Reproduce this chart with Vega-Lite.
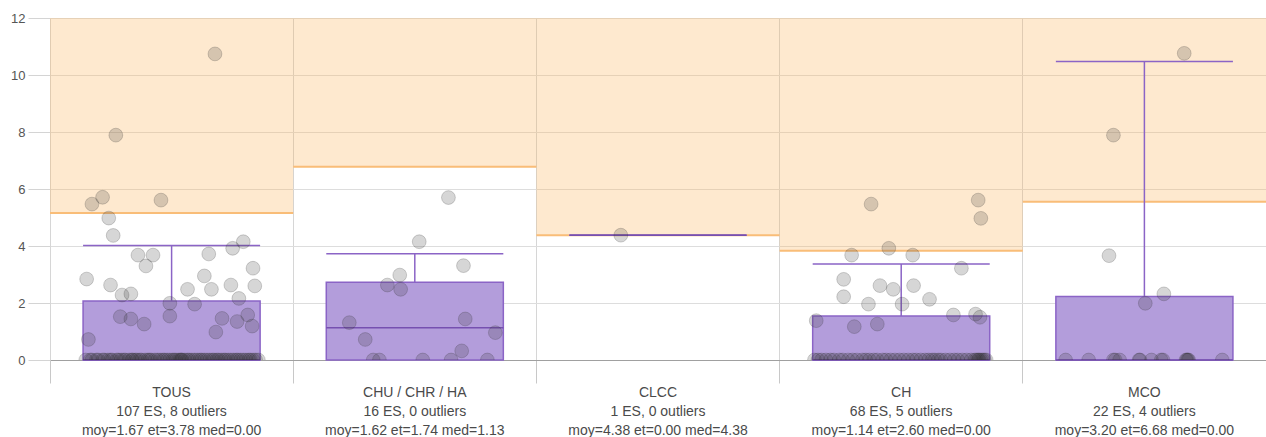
{
  "$schema": "https://vega.github.io/schema/vega-lite/v6.json",
  "width": 1216,
  "height": 342,
  "autosize": {"type": "none"},
  "padding": {"left": 50, "top": 18, "right": 0, "bottom": 77},
  "config": {
    "font": "Liberation Sans",
    "view": {"stroke": null},
    "axis": {"labelFont": "Liberation Sans"}
  },
  "resolve": {"scale": {"xOffset": "independent"}},
  "datasets": {
    "stats": [
      {"c": "TOUS", "label": "TOUS\n107 ES, 8 outliers\nmoy=1.67 et=3.78 med=0.00", "q1": 0, "q3": 2.07, "med": 0, "wtop": 4.02, "thr": 5.16, "top": 12},
      {"c": "CHU", "label": "CHU / CHR / HA\n16 ES, 0 outliers\nmoy=1.62 et=1.74 med=1.13", "q1": 0, "q3": 2.73, "med": 1.13, "wtop": 3.73, "thr": 6.78, "top": 12},
      {"c": "CLCC", "label": "CLCC\n1 ES, 0 outliers\nmoy=4.38 et=0.00 med=4.38", "q1": 4.38, "q3": 4.38, "med": 4.38, "wtop": 4.38, "thr": 4.38, "top": 12},
      {"c": "CH", "label": "CH\n68 ES, 5 outliers\nmoy=1.14 et=2.60 med=0.00", "q1": 0, "q3": 1.54, "med": 0, "wtop": 3.37, "thr": 3.83, "top": 12},
      {"c": "MCO", "label": "MCO\n22 ES, 4 outliers\nmoy=3.20 et=6.68 med=0.00", "q1": 0, "q3": 2.23, "med": 0, "wtop": 10.47, "thr": 5.55, "top": 12}
    ],
    "pts": [
      {"c":"TOUS","v":10.74,"j":0.49},{"c":"TOUS","v":7.89,"j":-0.63},{"c":"TOUS","v":5.47,"j":-0.9},{"c":"TOUS","v":5.71,"j":-0.78},
      {"c":"TOUS","v":5.61,"j":-0.12},{"c":"TOUS","v":4.98,"j":-0.71},{"c":"TOUS","v":4.37,"j":-0.66},{"c":"TOUS","v":3.68,"j":-0.38},
      {"c":"TOUS","v":3.68,"j":-0.21},{"c":"TOUS","v":3.3,"j":-0.29},{"c":"TOUS","v":2.84,"j":-0.96},{"c":"TOUS","v":2.63,"j":-0.69},
      {"c":"TOUS","v":2.28,"j":-0.56},{"c":"TOUS","v":2.32,"j":-0.46},{"c":"TOUS","v":1.52,"j":-0.58},{"c":"TOUS","v":1.44,"j":-0.46},
      {"c":"TOUS","v":1.26,"j":-0.31},{"c":"TOUS","v":0.72,"j":-0.94},{"c":"TOUS","v":1.99,"j":-0.02},{"c":"TOUS","v":1.54,"j":-0.02},
      {"c":"TOUS","v":2.48,"j":0.18},{"c":"TOUS","v":1.96,"j":0.26},{"c":"TOUS","v":2.95,"j":0.37},{"c":"TOUS","v":2.48,"j":0.45},
      {"c":"TOUS","v":3.72,"j":0.42},{"c":"TOUS","v":3.92,"j":0.69},{"c":"TOUS","v":4.15,"j":0.81},{"c":"TOUS","v":3.22,"j":0.92},
      {"c":"TOUS","v":2.6,"j":0.94},{"c":"TOUS","v":2.63,"j":0.67},{"c":"TOUS","v":2.16,"j":0.76},{"c":"TOUS","v":1.46,"j":0.57},
      {"c":"TOUS","v":1.35,"j":0.74},{"c":"TOUS","v":1.58,"j":0.86},{"c":"TOUS","v":1.19,"j":0.91},{"c":"TOUS","v":0.98,"j":0.5},
      {"c":"TOUS","v":0,"j":-0.97},{"c":"TOUS","v":0,"j":-0.92},{"c":"TOUS","v":0,"j":-0.9},{"c":"TOUS","v":0,"j":-0.85},
      {"c":"TOUS","v":0,"j":-0.83},{"c":"TOUS","v":0,"j":-0.78},{"c":"TOUS","v":0,"j":-0.76},{"c":"TOUS","v":0,"j":-0.72},
      {"c":"TOUS","v":0,"j":-0.69},{"c":"TOUS","v":0,"j":-0.67},{"c":"TOUS","v":0,"j":-0.62},{"c":"TOUS","v":0,"j":-0.6},
      {"c":"TOUS","v":0,"j":-0.57},{"c":"TOUS","v":0,"j":-0.54},{"c":"TOUS","v":0,"j":-0.52},{"c":"TOUS","v":0,"j":-0.48},
      {"c":"TOUS","v":0,"j":-0.45},{"c":"TOUS","v":0,"j":-0.44},{"c":"TOUS","v":0,"j":-0.39},{"c":"TOUS","v":0,"j":-0.36},
      {"c":"TOUS","v":0,"j":-0.34},{"c":"TOUS","v":0,"j":-0.3},{"c":"TOUS","v":0,"j":-0.27},{"c":"TOUS","v":0,"j":-0.25},
      {"c":"TOUS","v":0,"j":-0.23},{"c":"TOUS","v":0,"j":-0.19},{"c":"TOUS","v":0,"j":-0.16},{"c":"TOUS","v":0,"j":-0.13},
      {"c":"TOUS","v":0,"j":-0.1},{"c":"TOUS","v":0,"j":-0.08},{"c":"TOUS","v":0,"j":-0.05},{"c":"TOUS","v":0,"j":-0.02},
      {"c":"TOUS","v":0,"j":0.01},{"c":"TOUS","v":0,"j":0.03},{"c":"TOUS","v":0,"j":0.05},{"c":"TOUS","v":0,"j":0.08},
      {"c":"TOUS","v":0,"j":0.1},{"c":"TOUS","v":0,"j":0.12},{"c":"TOUS","v":0,"j":0.15},{"c":"TOUS","v":0,"j":0.18},
      {"c":"TOUS","v":0,"j":0.2},{"c":"TOUS","v":0,"j":0.23},{"c":"TOUS","v":0,"j":0.26},{"c":"TOUS","v":0,"j":0.29},
      {"c":"TOUS","v":0,"j":0.32},{"c":"TOUS","v":0,"j":0.34},{"c":"TOUS","v":0,"j":0.37},{"c":"TOUS","v":0,"j":0.4},
      {"c":"TOUS","v":0,"j":0.43},{"c":"TOUS","v":0,"j":0.46},{"c":"TOUS","v":0,"j":0.48},{"c":"TOUS","v":0,"j":0.51},
      {"c":"TOUS","v":0,"j":0.53},{"c":"TOUS","v":0,"j":0.56},{"c":"TOUS","v":0,"j":0.59},{"c":"TOUS","v":0,"j":0.61},
      {"c":"TOUS","v":0,"j":0.64},{"c":"TOUS","v":0,"j":0.67},{"c":"TOUS","v":0,"j":0.7},{"c":"TOUS","v":0,"j":0.73},
      {"c":"TOUS","v":0,"j":0.75},{"c":"TOUS","v":0,"j":0.78},{"c":"TOUS","v":0,"j":0.81},{"c":"TOUS","v":0,"j":0.84},
      {"c":"TOUS","v":0,"j":0.87},{"c":"TOUS","v":0,"j":0.89},{"c":"TOUS","v":0,"j":0.92},{"c":"TOUS","v":0,"j":0.95},
      {"c":"TOUS","v":0,"j":0.98},{"c":"TOUS","v":0,"j":-0.41},{"c":"TOUS","v":0,"j":0.11},
      {"c":"CHU","v":5.7,"j":0.38},{"c":"CHU","v":4.15,"j":0.05},{"c":"CHU","v":3.31,"j":0.55},{"c":"CHU","v":2.98,"j":-0.17},
      {"c":"CHU","v":2.63,"j":-0.31},{"c":"CHU","v":2.48,"j":-0.16},{"c":"CHU","v":1.31,"j":-0.74},{"c":"CHU","v":0.72,"j":-0.56},
      {"c":"CHU","v":1.44,"j":0.57},{"c":"CHU","v":0.96,"j":0.91},{"c":"CHU","v":0.32,"j":0.53},
      {"c":"CHU","v":0,"j":-0.47},{"c":"CHU","v":0,"j":-0.4},{"c":"CHU","v":0,"j":0.09},{"c":"CHU","v":0,"j":0.41},{"c":"CHU","v":0,"j":0.82},
      {"c":"CLCC","v":4.38,"j":-0.42},
      {"c":"CH","v":5.47,"j":-0.34},{"c":"CH","v":5.61,"j":0.87},{"c":"CH","v":4.97,"j":0.9},{"c":"CH","v":3.68,"j":-0.56},
      {"c":"CH","v":3.92,"j":-0.14},{"c":"CH","v":3.68,"j":0.13},{"c":"CH","v":3.22,"j":0.68},{"c":"CH","v":2.83,"j":-0.65},
      {"c":"CH","v":2.22,"j":-0.65},{"c":"CH","v":2.61,"j":-0.24},{"c":"CH","v":2.48,"j":-0.09},{"c":"CH","v":2.61,"j":0.14},
      {"c":"CH","v":1.96,"j":-0.37},{"c":"CH","v":1.96,"j":0.01},{"c":"CH","v":2.13,"j":0.32},{"c":"CH","v":1.38,"j":-0.96},
      {"c":"CH","v":1.17,"j":-0.53},{"c":"CH","v":1.26,"j":-0.27},{"c":"CH","v":1.58,"j":0.59},{"c":"CH","v":1.5,"j":0.89},
      {"c":"CH","v":1.61,"j":0.84},
      {"c":"CH","v":0,"j":-0.98},{"c":"CH","v":0,"j":-0.94},{"c":"CH","v":0,"j":-0.9},{"c":"CH","v":0,"j":-0.85},
      {"c":"CH","v":0,"j":-0.8},{"c":"CH","v":0,"j":-0.76},{"c":"CH","v":0,"j":-0.7},{"c":"CH","v":0,"j":-0.66},
      {"c":"CH","v":0,"j":-0.6},{"c":"CH","v":0,"j":-0.55},{"c":"CH","v":0,"j":-0.5},{"c":"CH","v":0,"j":-0.44},
      {"c":"CH","v":0,"j":-0.4},{"c":"CH","v":0,"j":-0.36},{"c":"CH","v":0,"j":-0.31},{"c":"CH","v":0,"j":-0.27},
      {"c":"CH","v":0,"j":-0.21},{"c":"CH","v":0,"j":-0.12},{"c":"CH","v":0,"j":-0.07},{"c":"CH","v":0,"j":-0.02},
      {"c":"CH","v":0,"j":0.03},{"c":"CH","v":0,"j":0.08},{"c":"CH","v":0,"j":0.13},{"c":"CH","v":0,"j":0.17},
      {"c":"CH","v":0,"j":0.22},{"c":"CH","v":0,"j":0.27},{"c":"CH","v":0,"j":0.31},{"c":"CH","v":0,"j":0.35},
      {"c":"CH","v":0,"j":0.38},{"c":"CH","v":0,"j":0.42},{"c":"CH","v":0,"j":0.45},{"c":"CH","v":0,"j":0.5},
      {"c":"CH","v":0,"j":0.55},{"c":"CH","v":0,"j":0.6},{"c":"CH","v":0,"j":0.64},{"c":"CH","v":0,"j":0.69},
      {"c":"CH","v":0,"j":0.74},{"c":"CH","v":0,"j":0.79},{"c":"CH","v":0,"j":0.83},{"c":"CH","v":0,"j":0.85},
      {"c":"CH","v":0,"j":0.87},{"c":"CH","v":0,"j":0.88},{"c":"CH","v":0,"j":0.9},{"c":"CH","v":0,"j":0.92},
      {"c":"CH","v":0,"j":0.94},{"c":"CH","v":0,"j":0.96},{"c":"CH","v":0,"j":-0.17},
      {"c":"MCO","v":10.76,"j":0.45},{"c":"MCO","v":7.89,"j":-0.35},{"c":"MCO","v":3.66,"j":-0.4},{"c":"MCO","v":2.32,"j":0.22},
      {"c":"MCO","v":1.99,"j":0.01},
      {"c":"MCO","v":0,"j":-0.89},{"c":"MCO","v":0,"j":-0.63},{"c":"MCO","v":0,"j":-0.35},{"c":"MCO","v":0,"j":-0.28},
      {"c":"MCO","v":0,"j":-0.06},{"c":"MCO","v":0,"j":0.08},{"c":"MCO","v":0,"j":0.19},{"c":"MCO","v":0,"j":0.47},
      {"c":"MCO","v":0,"j":0.49},{"c":"MCO","v":0,"j":0.88},{"c":"MCO","v":0,"j":0.48},{"c":"MCO","v":0,"j":-0.33},
      {"c":"MCO","v":0,"j":0.5},{"c":"MCO","v":0,"j":0.21},{"c":"MCO","v":0,"j":-0.05}
    ]
  },
  "layer": [
    {
      "data": {"name": "stats"},
      "mark": {"type": "bar", "width": {"band": 1}, "fill": "#fbb45a", "fillOpacity": 0.29, "stroke": null},
      "encoding": {
        "x": {
          "field": "label", "type": "nominal", "sort": null,
          "scale": {
            "domain": [
              "TOUS\n107 ES, 8 outliers\nmoy=1.67 et=3.78 med=0.00",
              "CHU / CHR / HA\n16 ES, 0 outliers\nmoy=1.62 et=1.74 med=1.13",
              "CLCC\n1 ES, 0 outliers\nmoy=4.38 et=0.00 med=4.38",
              "CH\n68 ES, 5 outliers\nmoy=1.14 et=2.60 med=0.00",
              "MCO\n22 ES, 4 outliers\nmoy=3.20 et=6.68 med=0.00"
            ],
            "paddingInner": 0, "paddingOuter": 0
          },
          "axis": {
            "title": null,
            "labelAngle": 0,
            "labelExpr": "split(datum.label, '\\n')",
            "labelFontSize": 14,
            "labelColor": "#4a4a4a",
            "labelLineHeight": 19,
            "labelPadding": 2,
            "labelOverlap": false,
            "labelBound": false,
            "bandPosition": 0,
            "tickSize": 23,
            "tickColor": "#c8c8c8",
            "grid": true,
            "gridColor": "#d6d6d6",
            "domainColor": "#a0a0a0"
          }
        },
        "y": {
          "field": "thr", "type": "quantitative",
          "scale": {"domain": [0, 12], "nice": false, "zero": true},
          "axis": {
            "title": null,
            "values": [0, 2, 4, 6, 8, 10, 12],
            "domain": false,
            "tickSize": 22,
            "tickColor": "#d4d4d4",
            "labelPadding": 3,
            "labelFontSize": 13,
            "labelColor": "#555",
            "gridColor": "#dddddd"
          }
        },
        "y2": {"field": "top"}
      }
    },
    {
      "data": {"name": "stats"},
      "mark": {"type": "bar", "width": {"band": 1}, "fillOpacity": 0, "stroke": "#f9bd78", "strokeWidth": 2},
      "encoding": {
        "x": {"field": "label", "type": "nominal", "sort": null},
        "y": {"field": "thr", "type": "quantitative"},
        "y2": {"field": "thr"}
      }
    },
    {
      "data": {"name": "stats"},
      "mark": {"type": "bar", "width": {"band": 0.728}, "fill": "#b39ddb", "stroke": "#8b64c6", "strokeWidth": 1.5},
      "encoding": {
        "x": {"field": "label", "type": "nominal", "sort": null},
        "y": {"field": "q1", "type": "quantitative"},
        "y2": {"field": "q3"}
      }
    },
    {
      "data": {"name": "stats"},
      "mark": {"type": "rule", "stroke": "#8b64c6", "strokeWidth": 1.5},
      "encoding": {
        "x": {"field": "label", "type": "nominal", "sort": null},
        "y": {"field": "q3", "type": "quantitative"},
        "y2": {"field": "wtop"}
      }
    },
    {
      "data": {"name": "stats"},
      "mark": {"type": "bar", "width": {"band": 0.728}, "fillOpacity": 0, "stroke": "#8b64c6", "strokeWidth": 1.5},
      "encoding": {
        "x": {"field": "label", "type": "nominal", "sort": null},
        "y": {"field": "wtop", "type": "quantitative"},
        "y2": {"field": "wtop"}
      }
    },
    {
      "data": {"name": "stats"},
      "mark": {"type": "bar", "width": {"band": 0.728}, "fillOpacity": 0, "stroke": "#7650b0", "strokeWidth": 1.5},
      "encoding": {
        "x": {"field": "label", "type": "nominal", "sort": null},
        "y": {"field": "med", "type": "quantitative"},
        "y2": {"field": "med"}
      }
    },
    {
      "data": {"name": "pts"},
      "transform": [
        {"lookup": "c", "from": {"data": {"name": "stats"}, "key": "c", "fields": ["label"]}}
      ],
      "mark": {"type": "point", "shape": "circle", "filled": true, "size": 190, "fill": "#333333", "fillOpacity": 0.2, "stroke": "#333333", "strokeOpacity": 0.22, "strokeWidth": 1, "clip": true},
      "encoding": {
        "x": {"field": "label", "type": "nominal", "sort": null},
        "xOffset": {"field": "j", "type": "quantitative", "scale": {"domain": [-1.374, 1.374]}},
        "y": {"field": "v", "type": "quantitative"}
      }
    }
  ]
}
